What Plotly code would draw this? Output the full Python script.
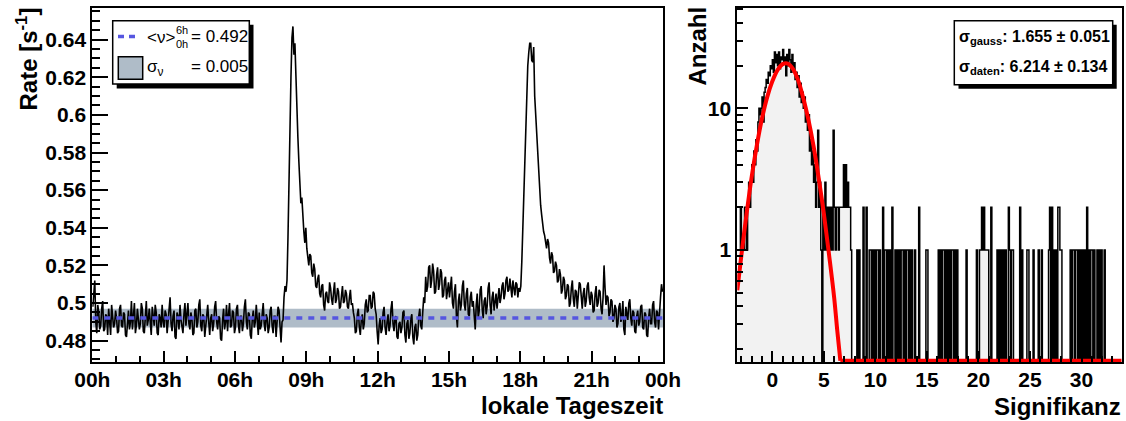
import plotly.graph_objects as go

W, H = 1126, 421
FONT = "Liberation Sans, Arial, Helvetica, sans-serif"

# ---------------- left panel: rate vs local time (2.5-minute bins) ----------------
rate_00_08h = [
    0.498, 0.505, 0.512, 0.490, 0.484, 0.499, 0.495, 0.486, 0.488, 0.497, 0.501, 0.485,
    0.486, 0.494, 0.493, 0.483, 0.497, 0.490, 0.483, 0.499, 0.494, 0.487, 0.489, 0.496,
    0.492, 0.484, 0.485, 0.497, 0.499, 0.488, 0.487, 0.495, 0.494, 0.483, 0.482, 0.491,
    0.496, 0.486, 0.490, 0.501, 0.486, 0.493, 0.500, 0.484, 0.488, 0.497, 0.493, 0.486,
    0.489, 0.500, 0.497, 0.485, 0.484, 0.492, 0.501, 0.488, 0.491, 0.497, 0.486, 0.483,
    0.498, 0.492, 0.488, 0.499, 0.495, 0.484, 0.483, 0.494, 0.492, 0.487, 0.499, 0.490,
    0.487, 0.496, 0.494, 0.484, 0.490, 0.498, 0.503, 0.489, 0.485, 0.493, 0.496, 0.482,
    0.481, 0.495, 0.493, 0.486, 0.499, 0.491, 0.487, 0.484, 0.494, 0.500, 0.488, 0.493,
    0.500, 0.489, 0.486, 0.495, 0.492, 0.483, 0.484, 0.496, 0.497, 0.487, 0.490, 0.499,
    0.502, 0.488, 0.485, 0.494, 0.493, 0.482, 0.488, 0.497, 0.499, 0.490, 0.483, 0.492,
    0.494, 0.485, 0.489, 0.498, 0.501, 0.490, 0.486, 0.493, 0.492, 0.481, 0.480, 0.491,
    0.497, 0.486, 0.490, 0.499, 0.485, 0.494, 0.500, 0.487, 0.488, 0.496, 0.495, 0.484,
    0.487, 0.497, 0.499, 0.488, 0.484, 0.493, 0.493, 0.485, 0.489, 0.498, 0.502, 0.490,
    0.486, 0.495, 0.494, 0.483, 0.481, 0.492, 0.496, 0.487, 0.490, 0.499, 0.487, 0.483,
    0.495, 0.486, 0.488, 0.497, 0.500, 0.489, 0.485, 0.494, 0.492, 0.484, 0.487, 0.496,
    0.498, 0.488, 0.484, 0.493, 0.493, 0.482, 0.489, 0.498, 0.496, 0.487, 0.479, 0.490,
]
rate_08_12h = [
    0.491, 0.503, 0.509, 0.506, 0.512, 0.535, 0.570, 0.598, 0.620, 0.641, 0.647, 0.632,
    0.638, 0.621, 0.600, 0.588, 0.575, 0.561, 0.553, 0.556, 0.545, 0.538, 0.532, 0.540,
    0.529, 0.522, 0.520, 0.526, 0.525, 0.516, 0.514, 0.521, 0.518, 0.509, 0.508, 0.513,
    0.515, 0.505, 0.503, 0.509, 0.510, 0.499, 0.496, 0.505, 0.506, 0.501, 0.500, 0.511,
    0.508, 0.502, 0.499, 0.506, 0.511, 0.500, 0.502, 0.508, 0.506, 0.497, 0.498, 0.504,
    0.509, 0.500, 0.501, 0.507, 0.505, 0.498, 0.497, 0.503, 0.507, 0.499, 0.500, 0.495,
    0.492, 0.484, 0.485, 0.494, 0.497, 0.487, 0.483, 0.491, 0.494, 0.486, 0.489, 0.499,
    0.502, 0.495, 0.496, 0.504, 0.504, 0.497, 0.498, 0.506, 0.505, 0.497, 0.494, 0.485,
]
rate_12_18h = [
    0.478, 0.488, 0.492, 0.484, 0.486, 0.495, 0.498, 0.487, 0.483, 0.490, 0.494, 0.485,
    0.488, 0.497, 0.501, 0.489, 0.485, 0.492, 0.493, 0.482, 0.481, 0.489, 0.490, 0.484,
    0.487, 0.495, 0.496, 0.483, 0.479, 0.489, 0.491, 0.481, 0.484, 0.492, 0.494, 0.482,
    0.478, 0.487, 0.489, 0.480, 0.483, 0.493, 0.497, 0.488, 0.486, 0.495, 0.503, 0.500,
    0.514, 0.506, 0.509, 0.519, 0.520, 0.508, 0.512, 0.521, 0.517, 0.505, 0.506, 0.515,
    0.519, 0.507, 0.510, 0.518, 0.516, 0.503, 0.504, 0.512, 0.514, 0.502, 0.508, 0.511,
    0.503, 0.511, 0.514, 0.500, 0.497, 0.506, 0.510, 0.493, 0.487, 0.501, 0.505, 0.496,
    0.499, 0.509, 0.512, 0.499, 0.496, 0.505, 0.508, 0.494, 0.493, 0.503, 0.506, 0.498,
    0.501, 0.493, 0.486, 0.499, 0.505, 0.492, 0.496, 0.507, 0.509, 0.497, 0.492, 0.501,
    0.503, 0.494, 0.498, 0.508, 0.511, 0.499, 0.494, 0.503, 0.506, 0.496, 0.500, 0.505,
    0.497, 0.503, 0.508, 0.500, 0.503, 0.509, 0.511, 0.502, 0.505, 0.512, 0.514, 0.506,
    0.507, 0.513, 0.509, 0.503, 0.512, 0.508, 0.504, 0.511, 0.510, 0.503, 0.508, 0.506,
]
rate_18_24h = [
    0.509, 0.522, 0.540, 0.562, 0.585, 0.602, 0.615, 0.626, 0.633, 0.638, 0.638, 0.629,
    0.628, 0.636, 0.610, 0.600, 0.590, 0.579, 0.568, 0.559, 0.552, 0.547, 0.541, 0.538,
    0.536, 0.531, 0.529, 0.534, 0.532, 0.524, 0.521, 0.527, 0.525, 0.516, 0.517, 0.522,
    0.520, 0.511, 0.512, 0.518, 0.515, 0.505, 0.507, 0.514, 0.512, 0.502, 0.504, 0.510,
    0.509, 0.498, 0.500, 0.508, 0.512, 0.502, 0.498, 0.507, 0.506, 0.497, 0.503, 0.511,
    0.510, 0.500, 0.497, 0.505, 0.508, 0.498, 0.501, 0.509, 0.511, 0.503, 0.499, 0.506,
    0.504, 0.495, 0.496, 0.505, 0.509, 0.498, 0.500, 0.507, 0.506, 0.497, 0.494, 0.503,
    0.520, 0.508, 0.499, 0.504, 0.503, 0.493, 0.495, 0.502, 0.501, 0.490, 0.492, 0.499,
    0.497, 0.487, 0.489, 0.498, 0.500, 0.490, 0.493, 0.501, 0.486, 0.483, 0.498, 0.494,
    0.491, 0.500, 0.502, 0.492, 0.488, 0.496, 0.495, 0.485, 0.484, 0.493, 0.496, 0.488,
    0.490, 0.498, 0.499, 0.487, 0.486, 0.495, 0.494, 0.483, 0.482, 0.492, 0.497, 0.489,
    0.489, 0.499, 0.501, 0.490, 0.487, 0.496, 0.495, 0.486, 0.498, 0.503, 0.510, 0.506,
]
bin_minutes = 2.5
mean_rate = 0.492
sigma_rate = 0.005
hour_ticks = [0, 3, 6, 9, 12, 15, 18, 21, 24]
hour_labels = ["00h", "03h", "06h", "09h", "12h", "15h", "18h", "21h", "00h"]

rate = rate_00_08h + rate_08_12h + rate_12_18h + rate_18_24h
t_hours = [(i + 0.5) * bin_minutes / 60.0 for i in range(len(rate))]

# ---------------- right panel: significance histogram ----------------
hist_x0 = -3.4
hist_bw = 0.1
hist_nbins = 373
core_counts = [
    1, 1, 1, 2, 1, 1, 1, 2, 2, 1,
    2, 3, 2, 3, 4, 3, 5, 4, 6, 5,
    8, 10, 9, 10, 12, 8, 13, 14, 16, 15,
    18, 17, 20, 19, 22, 18, 25, 21, 24, 20,
    25, 19, 23, 22, 26, 21, 23, 17, 24, 20,
    26, 22, 18, 24, 19, 21, 16, 18, 14, 17,
    12, 15, 11, 13, 10, 12, 8, 9, 7, 9,
    5, 6, 4, 5, 3, 4, 2, 3, 7, 2,
    3, 1, 0, 2, 1, 3, 1, 2, 1, 2,
    1, 2, 1, 7, 2, 1, 2, 2, 1, 2,
    2, 2, 2, 4, 2, 4, 2, 3, 2, 2,
    1, 0, 0,
]
tail_two = [8.8, 9.1, 10.7, 11.6, 14.2, 20.3, 20.5, 21.2, 22.9, 24.0, 26.9, 27.1, 27.7, 27.8, 30.5]
tail_one = [8.2, 8.4, 9.4, 9.5, 9.7, 9.9, 10.1, 10.2, 10.4, 10.9, 11.0, 11.2, 11.4, 11.9,
            12.1, 12.3, 12.5, 12.6, 12.8, 13.0, 13.1, 13.3, 13.5, 13.8, 14.9, 15.0, 16.1,
            16.3, 16.5, 16.6, 16.8, 17.0, 17.2, 17.4, 17.5, 17.7, 17.9, 18.8, 19.8, 20.1,
            20.2, 20.4, 20.6, 20.7, 20.8, 20.9, 21.8, 22.0, 22.2, 22.4, 22.6, 23.0, 23.2,
            23.3, 24.2, 24.7, 24.8, 25.3, 25.8, 26.1, 26.8, 27.3, 27.5, 27.9, 28.0, 28.9,
            29.1, 29.2, 29.4, 29.5, 29.7, 29.9, 30.1, 30.3, 30.7, 30.9, 31.0, 31.2, 31.5,
            31.7, 31.9, 32.2]
gauss_x = [-3.4, -3.0, -2.5, -2.0, -1.5, -1.0, -0.5, 0.0, 0.5, 1.0, 1.5, 2.0, 2.5, 3.0,
           3.5, 4.0, 4.5, 5.0, 5.5, 6.0, 6.3, 6.6]
gauss_y = [0.52, 0.92, 1.8, 3.3, 5.5, 8.5, 12.0, 15.5, 18.6, 20.5, 20.7, 19.0, 15.8, 11.8,
           8.3, 5.4, 3.2, 1.8, 0.93, 0.46, 0.27, 0.165]
floor_x = [6.6, 33.9]
floor_y = [0.165, 0.165]

counts = [0] * hist_nbins
for i, c in enumerate(core_counts):
    counts[i] = c
for v in tail_one:
    counts[int(round((v - hist_x0) / hist_bw))] = 1
for v in tail_two:
    counts[int(round((v - hist_x0) / hist_bw))] = 2
edges = [hist_x0 + hist_bw * i for i in range(hist_nbins + 1)]
centers = [e + hist_bw / 2 for e in edges[:-1]]
step_x = edges
step_y = [c if c > 0 else 0.01 for c in counts] + [0.01]

# ---------------- figure ----------------
def fx(px):
    return px / W

def fy(py):
    return 1 - py / H

yd = [fy(362.3), fy(8.0)]
fig = go.Figure()

# left
fig.add_shape(type="rect", xref="x", yref="y", x0=0, x1=24,
              y0=mean_rate - sigma_rate, y1=mean_rate + sigma_rate,
              fillcolor="#afbcc8", line_width=0, layer="below")
fig.add_trace(go.Scatter(x=t_hours, y=rate, mode="lines",
                         line=dict(color="black", width=1.6), xaxis="x", yaxis="y"))
fig.add_trace(go.Scatter(x=[0, 24], y=[mean_rate, mean_rate], mode="lines",
                         line=dict(color="#5656e0", width=3.5, dash="6px,6px"),
                         xaxis="x", yaxis="y"))

# right
fig.add_trace(go.Bar(x=centers, y=[c if c > 0 else None for c in counts], width=hist_bw,
                     marker=dict(color="#f2f2f2", line_width=0), xaxis="x2", yaxis="y2"))
fig.add_trace(go.Scatter(x=step_x, y=step_y, mode="lines", line_shape="hv",
                         line=dict(color="black", width=1.5), xaxis="x2", yaxis="y2"))
fig.add_trace(go.Scatter(x=gauss_x, y=gauss_y, mode="lines", line_shape="spline",
                         line=dict(color="#ff0000", width=4), xaxis="x2", yaxis="y2"))
fig.add_trace(go.Scatter(x=floor_x, y=floor_y, mode="lines",
                         line=dict(color="#ff0000", width=4), xaxis="x2", yaxis="y2"))

tickfont = dict(family=FONT, size=21, color="black", weight="bold")
common = dict(showline=True, linecolor="black", linewidth=2, mirror=True, showgrid=False,
              zeroline=False, ticks="inside", tickcolor="black", tickwidth=1.5,
              tickfont=tickfont, automargin=False)

log_minor = [0.2, 0.3, 0.4, 0.5, 0.6, 0.7, 0.8, 0.9, 2, 3, 4, 5, 6, 7, 8, 9, 20, 30, 40, 50]

fig.update_layout(
    template="none",
    width=W, height=H, margin=dict(l=0, r=0, t=0, b=0, pad=0, autoexpand=False),
    paper_bgcolor="white", plot_bgcolor="white", showlegend=False, bargap=0,
    xaxis=dict(domain=[fx(92.3), fx(663.0)], range=[0, 24], anchor="y",
               tickmode="array", tickvals=hour_ticks, ticktext=hour_labels, ticklen=11,
               ticklabelstandoff=-3,
               minor=dict(dtick=1, tick0=0, ticklen=6, ticks="inside", tickcolor="black",
                          tickwidth=1.5), **common),
    yaxis=dict(domain=yd, range=[0.4685, 0.6568], anchor="x", tick0=0.48, dtick=0.02,
               ticklen=16,
               minor=dict(dtick=0.005, tick0=0.48, ticklen=8, ticks="inside",
                          tickcolor="black", tickwidth=1.5), **common),
    xaxis2=dict(domain=[fx(737.3), fx(1121.7)], range=[-3.4, 33.9], anchor="y2",
                tick0=0, dtick=5, ticklen=11, ticklabelstandoff=-3,
                minor=dict(dtick=1, tick0=0, ticklen=6, ticks="inside", tickcolor="black",
                           tickwidth=1.5), **common),
    yaxis2=dict(domain=yd, type="log", range=[-0.793, 1.708], anchor="x2",
                tickmode="array", tickvals=[1, 10], ticktext=["1", "10"], ticklen=11,
                minor=dict(tickmode="array", tickvals=log_minor, ticklen=6, ticks="inside",
                           tickcolor="black", tickwidth=1.5), **common),
)

# legend box (left)
fig.add_shape(type="rect", xref="paper", yref="paper", x0=fx(116.7), x1=fx(253.5),
              y0=fy(88.5), y1=fy(24.7), fillcolor="black", line_width=0)
fig.add_shape(type="rect", xref="paper", yref="paper", x0=fx(112.7), x1=fx(249.3),
              y0=fy(84.0), y1=fy(20.7), fillcolor="white", line=dict(color="black", width=1.5))
fig.add_shape(type="line", xref="paper", yref="paper", x0=fx(118), x1=fx(138),
              y0=fy(36.5), y1=fy(36.5), line=dict(color="#5656e0", width=3.5, dash="6px,5px"))
fig.add_shape(type="rect", xref="paper", yref="paper", x0=fx(118.3), x1=fx(142.7),
              y0=fy(79.3), y1=fy(56.7), fillcolor="#afbcc8", line=dict(color="black", width=1.5))

# stats box (right)
fig.add_shape(type="rect", xref="paper", yref="paper", x0=fx(958.5), x1=fx(1116.7),
              y0=fy(88.7), y1=fy(24.7), fillcolor="black", line_width=0)
fig.add_shape(type="rect", xref="paper", yref="paper", x0=fx(954.3), x1=fx(1112.7),
              y0=fy(84.7), y1=fy(20.7), fillcolor="white", line=dict(color="black", width=1.5))

def ann(text, px, py, size, xanchor="left", yanchor="middle", bold=False, angle=0):
    fig.add_annotation(text=text, x=fx(px), y=fy(py), xref="paper", yref="paper",
                       showarrow=False, xanchor=xanchor, yanchor=yanchor, textangle=angle,
                       borderpad=0,
                       font=dict(family=FONT, size=size, color="black",
                                 weight="bold" if bold else "normal"))

ann("&lt;ν&gt;", 146.0, 37.5, 17)
ann("6h", 174.5, 29.5, 11)
ann("0h", 174.5, 44.0, 11)
ann("= 0.492", 189.5, 37.0, 17)
ann("σ<sub>ν</sub>", 146.0, 68.0, 17)
ann("= 0.005", 189.5, 66.5, 17)

ann("σ<sub>gauss</sub>: 1.655 ± 0.051", 957.5, 38.0, 16, bold=True)
ann("σ<sub>daten</sub>: 6.214 ± 0.134", 957.5, 68.0, 16, bold=True)

# axis titles
ann("Rate [s<sup>-1</sup>]", 26.0, 7.0, 24, xanchor="center", yanchor="top", bold=True, angle=-90)
ann("Anzahl", 697.0, 6.0, 24, xanchor="center", yanchor="top", bold=True, angle=-90)
ann("lokale Tageszeit", 663.5, 405.0, 24, xanchor="right", bold=True)
ann("Signifikanz", 1121.7, 406.5, 24, xanchor="right", bold=True)

fig.write_html("out.html")
